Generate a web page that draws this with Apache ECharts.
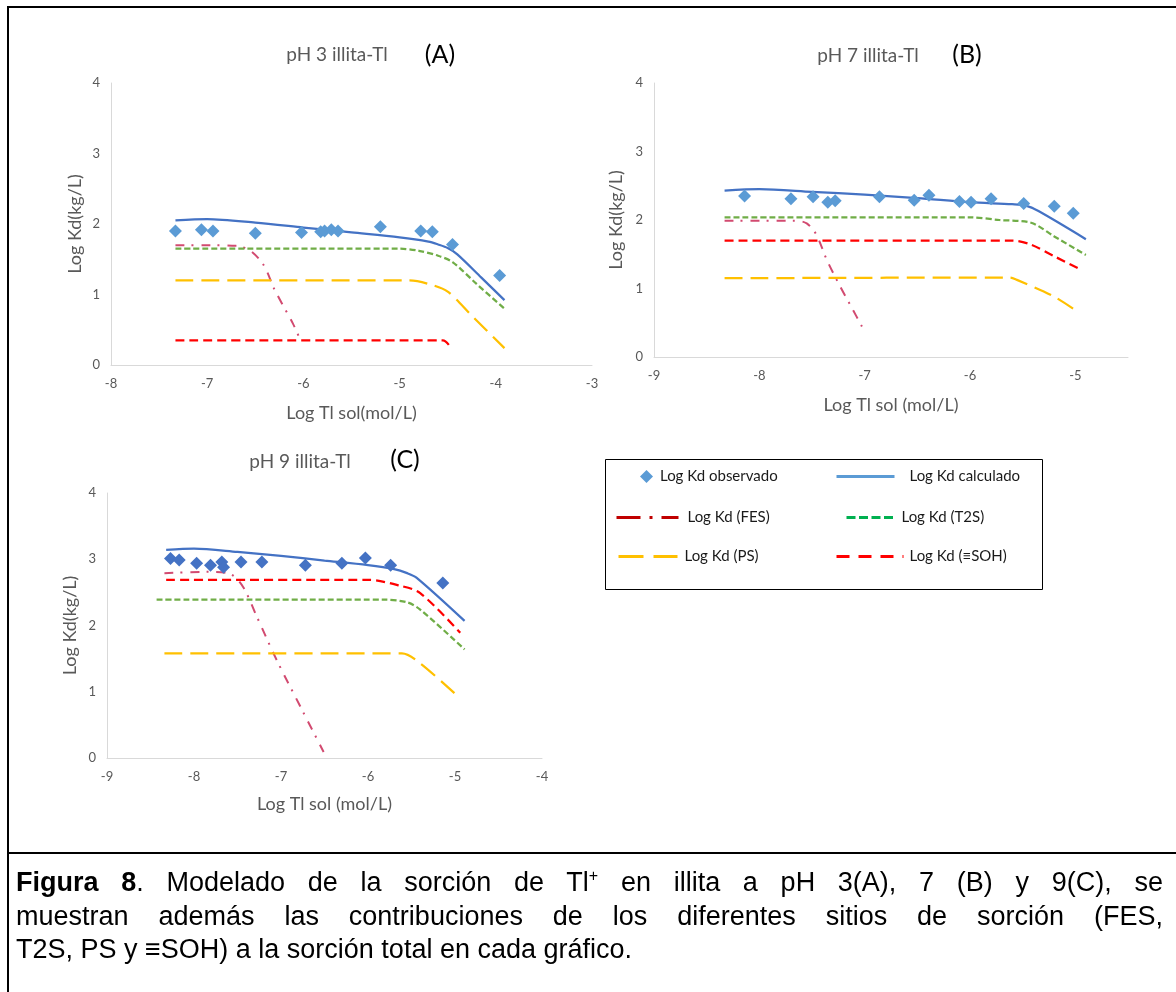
<!DOCTYPE html>
<html>
<head>
<meta charset="utf-8">
<script src="https://cdn.jsdelivr.net/npm/echarts@6/dist/echarts.min.js"></script>
<style>
  html, body { margin: 0; padding: 0; background: #fff; }
  #wrap { position: relative; width: 1176px; height: 992px; }
  #chart { position: absolute; left: 0; top: 0; width: 1176px; height: 992px; }
  #cap { position: absolute; left: 16px; top: 866px; width: 1147px;
         font-family: 'Liberation Sans', Arial, sans-serif; font-size: 27px; line-height: 33.5px; color: #000; }
  #cap .j { text-align: justify; text-align-last: justify; white-space: nowrap; }
  #cap sup { font-size: 16px; line-height: 0; vertical-align: 10px; }
</style>
</head>
<body>
<div id="wrap">
  <div id="chart"></div>
  <div id="cap">
    <div class="j"><b>Figura 8</b>. Modelado de la sorción de Tl<sup>+</sup> en illita a pH 3(A), 7 (B) y 9(C), se</div>
    <div class="j">muestran además las contribuciones de los diferentes sitios de sorción (FES,</div>
    <div>T2S, PS y ≡SOH) a la sorción total en cada gráfico.</div>
  </div>
</div>
<script>
// ---------- DATA ----------
const seriesNames = ['Log Kd observado', 'Log Kd calculado', 'Log Kd (FES)', 'Log Kd (T2S)', 'Log Kd (PS)', 'Log Kd (\u2261SOH)'];
const panelTitles = ['pH 3 illita-Tl', 'pH 7 illita-Tl', 'pH 9 illita-Tl'];
const panelLetters = ['(A)', '(B)', '(C)'];
const xAxisNames = ['Log Tl sol(mol/L)', 'Log Tl sol (mol/L)', 'Log Tl sol (mol/L)'];
const yAxisName = 'Log Kd(kg/L)';
const xRanges = [[-8, -3], [-9, -4.5], [-9, -4]];
const yRange = [0, 4];

// Panel A (pH 3)
const A_observado = [[-7.33,1.90],[-7.06,1.92],[-6.94,1.90],[-6.50,1.87],[-6.02,1.88],[-5.82,1.89],[-5.78,1.90],[-5.71,1.92],[-5.64,1.90],[-5.20,1.96],[-4.78,1.90],[-4.66,1.89],[-4.45,1.71],[-3.96,1.27]];
const A_calculado = [[-7.33,2.05],[-7.0,2.07],[-6.5,2.02],[-6.0,1.95],[-5.5,1.88],[-5.0,1.81],[-4.7,1.75],[-4.6,1.71],[-4.5,1.66],[-4.4,1.57],[-4.15,1.24],[-3.91,0.92]];
const A_FES = [[-7.33,1.70],[-7.0,1.70],[-6.7,1.69],[-6.55,1.62],[-6.41,1.41],[-6.30,1.07],[-6.11,0.59],[-6.04,0.38]];
const A_T2S = [[-7.33,1.65],[-5.0,1.65],[-4.8,1.62],[-4.6,1.55],[-4.45,1.46],[-4.2,1.15],[-3.91,0.80]];
const A_PS  = [[-7.33,1.20],[-4.9,1.20],[-4.7,1.15],[-4.5,1.04],[-4.25,0.70],[-3.91,0.24]];
const A_SOH = [[-7.33,0.35],[-4.55,0.35],[-4.46,0.23]];

// Panel B (pH 7)
const B_observado = [[-8.14,2.35],[-7.70,2.31],[-7.49,2.34],[-7.35,2.26],[-7.28,2.28],[-6.86,2.34],[-6.53,2.29],[-6.39,2.36],[-6.10,2.27],[-5.99,2.26],[-5.80,2.31],[-5.49,2.24],[-5.20,2.20],[-5.02,2.10]];
const B_calculado = [[-8.33,2.43],[-8.0,2.45],[-7.5,2.41],[-7.0,2.37],[-6.5,2.32],[-6.0,2.26],[-5.6,2.23],[-5.47,2.21],[-5.35,2.13],[-4.90,1.72]];
const B_FES = [[-8.33,1.99],[-7.65,1.99],[-7.55,1.95],[-7.46,1.79],[-7.36,1.42],[-7.25,1.08],[-7.13,0.74],[-7.01,0.40]];
const B_T2S = [[-8.33,2.04],[-6.0,2.04],[-5.72,2.00],[-5.42,1.96],[-5.2,1.76],[-4.90,1.49]];
const B_PS  = [[-8.33,1.15],[-5.62,1.16],[-5.56,1.13],[-5.2,0.88],[-4.96,0.64]];
const B_SOH = [[-8.33,1.70],[-5.6,1.70],[-5.42,1.64],[-5.2,1.47],[-4.94,1.27]];

// Panel C (pH 9)
const C_observado = [[-8.27,3.01],[-8.17,2.99],[-7.97,2.94],[-7.81,2.91],[-7.68,2.96],[-7.66,2.88],[-7.46,2.96],[-7.22,2.96],[-6.72,2.91],[-6.30,2.94],[-6.03,3.02],[-5.74,2.91],[-5.14,2.64]];
const C_calculado = [[-8.32,3.14],[-8.0,3.16],[-7.5,3.11],[-7.0,3.05],[-6.5,2.98],[-6.0,2.91],[-5.7,2.85],[-5.55,2.79],[-5.44,2.72],[-4.89,2.07]];
const C_FES = [[-8.34,2.79],[-7.82,2.81],[-7.57,2.77],[-7.43,2.57],[-7.28,2.14],[-7.05,1.48],[-6.74,0.68],[-6.51,0.09]];
const C_T2S = [[-8.43,2.39],[-5.82,2.39],[-5.55,2.35],[-5.40,2.24],[-4.89,1.64]];
const C_PS  = [[-8.34,1.58],[-5.61,1.58],[-5.40,1.43],[-4.95,0.91]];
const C_SOH = [[-8.32,2.69],[-6.0,2.69],[-5.63,2.60],[-5.40,2.49],[-4.94,1.89]];

const panels = [
  { obs: A_observado, calc: A_calculado, fes: A_FES, t2s: A_T2S, ps: A_PS, soh: A_SOH },
  { obs: B_observado, calc: B_calculado, fes: B_FES, t2s: B_T2S, ps: B_PS, soh: B_SOH },
  { obs: C_observado, calc: C_calculado, fes: C_FES, t2s: C_T2S, ps: C_PS, soh: C_SOH }
];

// ---------- LAYOUT / STYLE ----------
const FONT = 'Lato, "Open Sans", sans-serif';
const grids = [
  { left: 111, top: 83, width: 481, height: 282 },
  { left: 654, top: 83, width: 474, height: 274 },
  { left: 107, top: 493, width: 435, height: 265 }
];
const titlePos = [
  { t: [337, 55], l: [440, 55] },
  { t: [868, 56], l: [967, 55] },
  { t: [300, 462], l: [405, 460] }
];
const yNameGap = [27, 29, 28];
const xNameGap = [39, 39, 37];
const obsColors = ['#5B9BD5', '#5B9BD5', '#4472C4'];
const CALC = '#4472C4', FESC = '#D24A70', T2SC = '#70AD47', PSC = '#FFC000', SOHC = '#FF0000';

const intLabel = v => (Math.abs(v - Math.round(v)) < 1e-9 ? String(Math.round(v)) : '');

const xAxes = [], yAxes = [], series = [], graphics = [];
grids.forEach((g, i) => {
  xAxes.push({
    type: 'value', gridIndex: i, min: xRanges[i][0], max: xRanges[i][1], interval: 1,
    name: xAxisNames[i], nameLocation: 'middle', nameGap: xNameGap[i], nameMoveOverlap: false,
    nameTextStyle: { color: '#595959', fontSize: 18, fontFamily: FONT },
    axisLine: { show: true, onZero: false, lineStyle: { color: '#D9D9D9', width: 1 } },
    axisTick: { show: false }, splitLine: { show: false },
    axisLabel: { color: '#595959', fontSize: 13, fontFamily: FONT, margin: 12, formatter: intLabel }
  });
  yAxes.push({
    type: 'value', gridIndex: i, min: yRange[0], max: yRange[1], interval: 1,
    name: yAxisName, nameLocation: 'middle', nameGap: yNameGap[i], nameMoveOverlap: false,
    nameTextStyle: { color: '#595959', fontSize: 18, fontFamily: FONT },
    axisLine: { show: true, lineStyle: { color: '#D9D9D9', width: 1 } },
    axisTick: { show: false }, splitLine: { show: false },
    axisLabel: { color: '#595959', fontSize: 13, fontFamily: FONT, margin: 11 }
  });
  const p = panels[i];
  const ln = (name, data, color, width, type, z) => ({
    name, type: 'line', xAxisIndex: i, yAxisIndex: i, data,
    symbol: 'none', showSymbol: false, smooth: 0.3, z: z || 2,
    lineStyle: { color, width, type, cap: 'butt' }, itemStyle: { color }
  });
  series.push(ln(seriesNames[2], p.fes, FESC, 2, [9, 7, 2, 8]));
  series.push(ln(seriesNames[3], p.t2s, T2SC, 2.25, [6, 3]));
  series.push(ln(seriesNames[4], p.ps, PSC, 2.25, [18, 8]));
  series.push(ln(seriesNames[5], p.soh, SOHC, 2.25, [9, 5]));
  series.push(ln(seriesNames[1], p.calc, CALC, 2.25, 'solid', 3));
  series.push({
    name: seriesNames[0], type: 'scatter', xAxisIndex: i, yAxisIndex: i, data: p.obs,
    symbol: 'diamond', symbolSize: 13, z: 4, itemStyle: { color: obsColors[i], opacity: 1 }
  });
  graphics.push({ type: 'text', x: titlePos[i].t[0], y: titlePos[i].t[1],
    style: { text: panelTitles[i], fill: '#595959', font: '19px ' + FONT,
             align: 'center', verticalAlign: 'middle', textAlign: 'center', textVerticalAlign: 'middle' } });
  graphics.push({ type: 'text', x: titlePos[i].l[0], y: titlePos[i].l[1],
    style: { text: panelLetters[i], fill: '#000', font: '25px ' + FONT,
             align: 'center', verticalAlign: 'middle', textAlign: 'center', textVerticalAlign: 'middle' } });
});

// frame lines
graphics.push({ type: 'line', shape: { x1: 7, y1: 7, x2: 1176, y2: 7 }, style: { stroke: '#000', lineWidth: 2 } });
graphics.push({ type: 'line', shape: { x1: 8, y1: 6, x2: 8, y2: 992 }, style: { stroke: '#000', lineWidth: 2 } });
graphics.push({ type: 'line', shape: { x1: 7, y1: 853, x2: 1176, y2: 853 }, style: { stroke: '#000', lineWidth: 2 } });
// legend box
graphics.push({ type: 'rect', shape: { x: 605.5, y: 459.5, width: 437, height: 130 }, style: { fill: 'none', stroke: '#000', lineWidth: 1 }, z: 0 });

const legTxt = { color: '#1a1a1a', fontSize: 15, fontFamily: FONT };
const noSym = { color: 'rgba(0,0,0,0)', borderWidth: 0, opacity: 0 };
const legendItem = (name, left, cy, w, h, extra, padLeft) => ({
  data: [Object.assign({ name }, extra)], left, top: cy - 9, orient: 'horizontal',
  itemWidth: w, itemHeight: h, padding: 0, selectedMode: false,
  textStyle: Object.assign({}, legTxt, { padding: [0, 0, 0, padLeft] })
});
const legends = [
  legendItem(seriesNames[0], 640, 478, 13, 13, { icon: 'diamond', itemStyle: { color: '#5B9BD5' } }, 2),
  legendItem(seriesNames[1], 835, 478, 58, 18, { itemStyle: noSym, lineStyle: { color: '#5B9BD5', width: 3, type: 'solid' } }, 10),
  legendItem(seriesNames[2], 615, 519, 62, 18, { itemStyle: noSym, lineStyle: { color: '#C00000', width: 3, type: [24, 9, 3, 9] } }, 4),
  legendItem(seriesNames[3], 845, 519, 48, 18, { itemStyle: noSym, lineStyle: { color: '#00B050', width: 3, type: [9, 3.5] } }, 2),
  legendItem(seriesNames[4], 617, 558, 59, 18, { itemStyle: noSym, lineStyle: { color: '#FFC000', width: 3, type: [25, 10] } }, 2),
  legendItem(seriesNames[5], 835, 558, 67, 18, { itemStyle: noSym, lineStyle: { color: '#FF0000', width: 3, type: [13, 9] } }, 1)
];

const chart = echarts.init(document.getElementById('chart'), null, { renderer: 'canvas' });
chart.setOption({
  animation: false,
  backgroundColor: '#fff',
  grid: grids,
  xAxis: xAxes,
  yAxis: yAxes,
  legend: legends,
  series: series,
  graphic: { elements: graphics }
});
</script>
</body>
</html>
